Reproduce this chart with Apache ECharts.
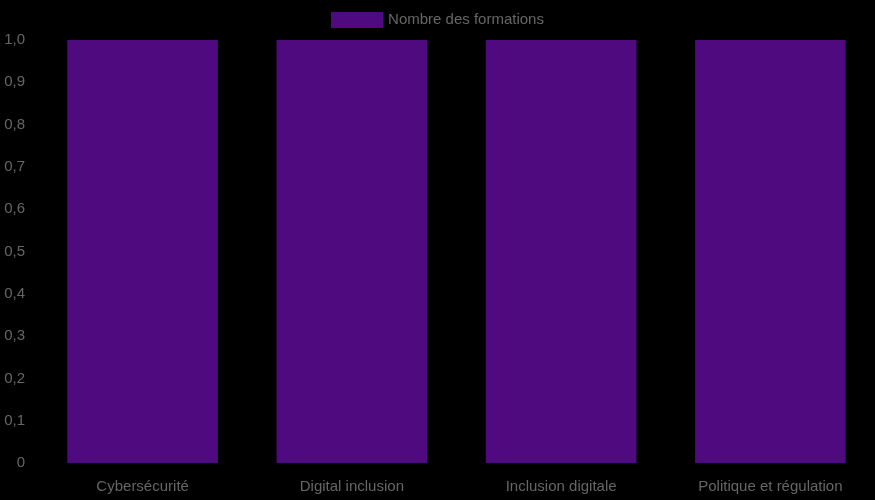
<!DOCTYPE html>
<html>
<head>
<meta charset="utf-8">
<script src="https://cdn.jsdelivr.net/npm/echarts@6/dist/echarts.min.js"></script>
<style>
  html, body { margin: 0; padding: 0; background: #000; }
  #chart { width: 875px; height: 500px; }
</style>
</head>
<body>
<div id="chart"></div>
<script>
// données du graphique
var categories = ['Cybersécurité', 'Digital inclusion', 'Inclusion digitale', 'Politique et régulation'];
var formations = [1, 1, 1, 1];
var seriesName = 'Nombre des formations';

var chart = echarts.init(document.getElementById('chart'));

var option = {
    backgroundColor: '#000000',
    textStyle: { fontFamily: 'Liberation Sans, Arial, sans-serif' },
    legend: {
        top: 12,
        left: 'center',
        padding: 0,
        icon: 'rect',
        itemWidth: 52,
        itemHeight: 16,
        itemGap: 10,
        itemStyle: { borderWidth: 0 },
        textStyle: { color: '#666666', fontSize: 15, padding: [0, 0, 3, 0] },
        data: [seriesName]
    },
    grid: {
        left: 38,
        right: 0,
        top: 40,
        bottom: 37,
        containLabel: false
    },
    xAxis: {
        type: 'category',
        data: categories,
        axisLine: { show: false },
        axisTick: { show: false },
        splitLine: { show: false },
        axisLabel: { color: '#666666', fontSize: 15, margin: 16 }
    },
    yAxis: {
        type: 'value',
        min: 0,
        max: 1,
        interval: 0.1,
        axisLine: { show: false },
        axisTick: { show: false },
        splitLine: { show: false },
        axisLabel: {
            color: '#666666',
            fontSize: 15,
            margin: 13,
            formatter: function (v) {
                if (v === 0) return '0';
                return v.toFixed(1).replace('.', ',');
            }
        }
    },
    series: [{
        name: seriesName,
        type: 'bar',
        data: formations,
        barWidth: '72%',
        itemStyle: { color: '#4e0a7e' }
    }]
};

chart.setOption(option);
</script>
</body>
</html>
